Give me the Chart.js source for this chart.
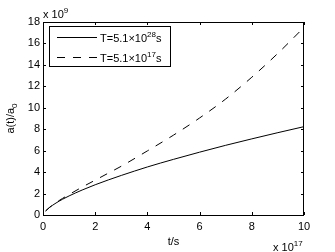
<!DOCTYPE html>
<html>
<head>
<meta charset="utf-8">
<script src="https://cdn.jsdelivr.net/npm/chart.js@4.4.1/dist/chart.umd.min.js"></script>
<style>
  html, body { margin: 0; padding: 0; background: #fff; }
  canvas { display: block; }
</style>
</head>
<body>
<canvas id="chart" width="335" height="252"></canvas>
<script>
// t in units of 1e17 s, a(t)/a0 in units of 1e9
const tValues = [0.1, 0.25, 0.5, 0.75, 1, 1.5, 2, 2.5, 3, 4, 5, 6, 7, 8, 9, 10];
const aLongT  = [0.38, 0.70, 1.12, 1.47, 1.78, 2.33, 2.82, 3.27, 3.69, 4.48, 5.19, 5.86, 6.50, 7.10, 7.68, 8.24];
const aShortT = [0.38, 0.71, 1.16, 1.55, 1.91, 2.60, 3.25, 3.90, 4.55, 5.98, 7.45, 9.05, 10.82, 12.85, 15.08, 17.5];

const seriesBase = ['T=5.1×10', 'T=5.1×10'];
const seriesExp  = ['28', '17'];
const seriesUnit = ['s', 's'];

const xTitle = 't/s';
const yTitle = 'a(t)/a';
const yTitleSub = '0';
const xExp = '17';
const yExp = '9';

const FONT = '"Liberation Sans", Arial, sans-serif';
const INK = '#000';

function pts(ys) {
  return tValues.map((t, i) => ({x: t, y: ys[i]}));
}

// draws text with a raised exponent, returns end x
function expText(ctx, base, exp, tail, x, y) {
  ctx.font = '11px ' + FONT;
  ctx.fillText(base, x, y);
  x += ctx.measureText(base).width;
  ctx.font = '8px ' + FONT;
  ctx.fillText(exp, x, y - 5);
  x += ctx.measureText(exp).width;
  if (tail) {
    ctx.font = '11px ' + FONT;
    ctx.fillText(tail, x, y);
    x += ctx.measureText(tail).width;
  }
  return x;
}

const frame = {
  id: 'frame',
  afterDraw(chart) {
    const ctx = chart.ctx;
    const a = chart.chartArea;
    const xs = chart.scales.x, ys = chart.scales.y;
    ctx.save();
    ctx.strokeStyle = INK;
    ctx.lineWidth = 1;
    ctx.strokeRect(a.left + 0.5, a.top + 0.5, a.right - a.left - 1, a.bottom - a.top);

    // inward ticks on all four sides
    ctx.beginPath();
    xs.ticks.forEach(t => {
      const px = Math.round(xs.getPixelForValue(t.value)) + 0.5;
      ctx.moveTo(px, a.bottom); ctx.lineTo(px, a.bottom - 3);
      ctx.moveTo(px, a.top); ctx.lineTo(px, a.top + 3);
    });
    ys.ticks.forEach(t => {
      const py = Math.round(ys.getPixelForValue(t.value)) + 0.5;
      ctx.moveTo(a.left, py); ctx.lineTo(a.left + 3, py);
      ctx.moveTo(a.right, py); ctx.lineTo(a.right - 3, py);
    });
    ctx.stroke();

    ctx.fillStyle = INK;
    ctx.textBaseline = 'alphabetic';
    ctx.textAlign = 'left';

    // exponent notes
    expText(ctx, 'x 10', yExp, '', 43, 18);
    expText(ctx, 'x 10', xExp, '', 273, 251);

    // x title
    ctx.font = '11px ' + FONT;
    ctx.textAlign = 'center';
    ctx.fillText(xTitle, (a.left + a.right) / 2, 245);

    // y title, rotated
    ctx.save();
    ctx.translate(14, (a.top + a.bottom) / 2);
    ctx.rotate(-Math.PI / 2);
    ctx.textAlign = 'left';
    ctx.font = '11px ' + FONT;
    const w1 = ctx.measureText(yTitle).width;
    ctx.font = '8px ' + FONT;
    const w2 = ctx.measureText(yTitleSub).width;
    const x0 = -(w1 + w2) / 2;
    ctx.font = '11px ' + FONT;
    ctx.fillText(yTitle, x0, 0);
    ctx.font = '8px ' + FONT;
    ctx.fillText(yTitleSub, x0 + w1, 3);
    ctx.restore();

    // legend box
    const lx = 49, ly = 26, lw = 121, lh = 40;
    ctx.fillStyle = '#fff';
    ctx.fillRect(lx, ly, lw, lh);
    ctx.strokeRect(lx + 0.5, ly + 0.5, lw, lh);
    chart.data.datasets.forEach((ds, i) => {
      const rowY = ly + 11.5 + i * 20;
      ctx.beginPath();
      ctx.setLineDash(ds.borderDash || []);
      ctx.moveTo(57, rowY);
      ctx.lineTo(97, rowY);
      ctx.stroke();
      ctx.setLineDash([]);
      ctx.fillStyle = INK;
      ctx.textAlign = 'left';
      expText(ctx, seriesBase[i], seriesExp[i], seriesUnit[i], 100, rowY + 4);
    });
    ctx.restore();
  }
};

new Chart(document.getElementById('chart'), {
  type: 'line',
  data: {
    datasets: [
      {
        label: seriesBase[0] + seriesExp[0] + seriesUnit[0],
        data: pts(aLongT),
        borderColor: INK,
        borderWidth: 1,
        pointRadius: 0,
        cubicInterpolationMode: 'monotone'
      },
      {
        label: seriesBase[1] + seriesExp[1] + seriesUnit[1],
        data: pts(aShortT),
        borderColor: INK,
        borderWidth: 1,
        borderDash: [8, 8],
        pointRadius: 0,
        cubicInterpolationMode: 'monotone'
      }
    ]
  },
  options: {
    responsive: false,
    animation: false,
    devicePixelRatio: 1,
    layout: { padding: { top: 22, right: 31, left: 0, bottom: 0 } },
    plugins: { legend: { display: false }, tooltip: { enabled: false } },
    scales: {
      x: {
        type: 'linear', min: 0, max: 10,
        ticks: { stepSize: 2, color: INK, padding: 5, font: { family: FONT, size: 11 }, maxRotation: 0 },
        grid: { display: false, drawTicks: false },
        border: { display: false },
        afterFit: s => { s.height = 37; }
      },
      y: {
        type: 'linear', min: 0, max: 18,
        ticks: { stepSize: 2, color: INK, padding: 3, font: { family: FONT, size: 11 } },
        grid: { display: false, drawTicks: false },
        border: { display: false },
        afterFit: s => { s.width = 43; }
      }
    }
  },
  plugins: [frame]
});
</script>
</body>
</html>
